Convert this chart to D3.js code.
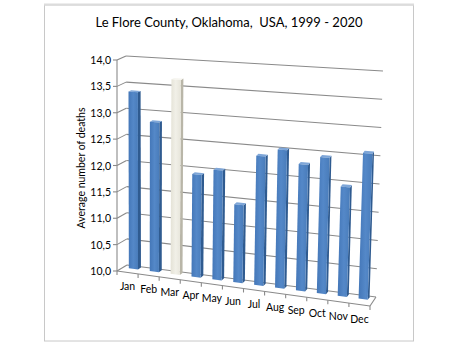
<!DOCTYPE html>
<html><head><meta charset="utf-8">
<script src="https://cdn.jsdelivr.net/npm/d3@7"></script>
<style>body{margin:0;background:#fff}svg{display:block}</style>
</head><body>
<script>
// ---- data ----
const chartTitle = "Le Flore County, Oklahoma,  USA, 1999 - 2020";
const yAxisTitle = "Average number of deaths";
const months = ["Jan","Feb","Mar","Apr","May","Jun","Jul","Aug","Sep","Oct","Nov","Dec"];
const deaths = [13.36, 12.82, 13.65, 11.91, 12.03, 11.43, 12.36, 12.51, 12.28, 12.44, 11.95, 12.58];
const yTicks = [10.0, 10.5, 11.0, 11.5, 12.0, 12.5, 13.0, 13.5, 14.0];
const highlighted = ["Mar"];

// ---- layout ----
const W = 459, H = 349;
const svg = d3.select("body").append("svg").attr("width", W).attr("height", H);
const font = "Lato, 'Liberation Sans', sans-serif";

// 3D box corners (screen): F = front plane (z=0), B = back wall (z=1)
const F00=[117,271], F10=[370,306], F01=[117,60], F11=[378,78];
const B00=[127,265], B10=[376,297], B01=[126,56], B11=[383,71];
const lerp=(a,b,u)=>[a[0]+(b[0]-a[0])*u, a[1]+(b[1]-a[1])*u];
function P(t,s,z){
  const f = lerp(lerp(F00,F10,t), lerp(F01,F11,t), s);
  const b = lerp(lerp(B00,B10,t), lerp(B01,B11,t), s);
  return lerp(f,b,z);
}

const x = d3.scaleBand().domain(months).range([0,1]).paddingInner(0.56).paddingOuter(0.28);
const y = d3.scaleLinear().domain([10,14]).range([0,1]);
const line = d3.line();

// outer border
svg.append("rect").attr("x",44.5).attr("y",5).attr("width",369).attr("height",336)
  .attr("fill","none").attr("stroke","#c8c8c8").attr("stroke-width",1);
svg.append("line").attr("x1",44).attr("x2",414).attr("y1",4.5).attr("y2",4.5)
  .attr("stroke","#dcdcdc").attr("stroke-width",2);

// title
svg.append("text").attr("x",229).attr("y",27).attr("text-anchor","middle")
  .attr("font-family",font).attr("font-size",13.5).attr("fill","#000")
  .attr("textLength",267).attr("lengthAdjust","spacingAndGlyphs")
  .style("white-space","pre").text(chartTitle);

const grid = svg.append("g").attr("fill","none").attr("stroke","#8a8a8a").attr("stroke-width",1.1);
yTicks.forEach(v=>{
  grid.append("path").attr("d", line([P(0,y(v),1), P(1,y(v),1)]));
  grid.append("path").attr("d", line([P(0,y(v),0), P(0,y(v),1)]));
  const p = P(0,y(v),0);
  grid.append("path").attr("d", line([[p[0]-4,p[1]],p]));
});
grid.append("path").attr("d", line([P(0,0,0), P(0,1,0)]));
grid.append("path").attr("d", line([P(0,0,0), P(1,0,0)]));
grid.append("path").attr("d", line([P(1,0,0), P(1,0,1)]));
months.forEach((m,i)=>{
  const p = P(i/months.length,0,0);
  grid.append("path").attr("d", line([p,[p[0],p[1]+4]]));
});
{ const p = P(1,0,0); grid.append("path").attr("d", line([p,[p[0],p[1]+4]])); }

// y tick labels
svg.append("g").selectAll("text").data(yTicks).join("text")
  .attr("x", 111).attr("y", v=>P(0,y(v),0)[1]+4)
  .attr("text-anchor","end").attr("font-family",font).attr("font-size",10.5).attr("fill","#000")
  .text(v=>d3.format(".1f")(v).replace(".",","));

// y axis title
svg.append("text").attr("transform","translate(85,168) rotate(-90)")
  .attr("text-anchor","middle").attr("font-family",font).attr("font-size",10.5).attr("fill","#000")
  .text(yAxisTitle);

// x labels
svg.append("g").selectAll("text").data(months).join("text")
  .attr("x", m=>P(x(m)+x.bandwidth()/2,0,0)[0])
  .attr("y", m=>P(x(m)+x.bandwidth()/2,0,0)[1]+18)
  .attr("text-anchor","middle").attr("font-family",font).attr("font-size",10.5).attr("fill","#000")
  .text(m=>m);

// gradients
const defs = svg.append("defs");
function grad(id, c0, c1, c2){
  const g = defs.append("linearGradient").attr("id",id).attr("x1","0").attr("x2","1").attr("y1","0").attr("y2","0");
  g.append("stop").attr("offset","0").attr("stop-color",c0);
  g.append("stop").attr("offset","0.5").attr("stop-color",c1);
  g.append("stop").attr("offset","1").attr("stop-color",c2);
}
grad("gBlue","#4477b8","#5488c8","#497cba");
grad("gIvory","#e4e2d6","#f1f0e8","#e6e4d9");

const z0 = 0.6, z1 = 0.9;
const bars = svg.append("g");
months.forEach((m,i)=>{
  const v = deaths[i];
  const hl = highlighted.includes(m);
  const t0 = x(m), t1 = x(m)+x.bandwidth();
  const s0 = y(10), s1 = y(v);
  const g = bars.append("g");
  g.append("path").attr("d", line([P(t1,s0,z0),P(t1,s0,z1),P(t1,s1,z1),P(t1,s1,z0)])+"Z")
    .attr("fill", hl ? "#b9b6a8" : "#2f5b90");
  g.append("path").attr("d", line([P(t0,s1,z0),P(t1,s1,z0),P(t1,s1,z1),P(t0,s1,z1)])+"Z")
    .attr("fill", hl ? "#f7f6f1" : "#7ea6d8");
  g.append("path").attr("d", line([P(t0,s0,z0),P(t1,s0,z0),P(t1,s1,z0),P(t0,s1,z0)])+"Z")
    .attr("fill", hl ? "url(#gIvory)" : "url(#gBlue)");
});
</script>
</body></html>
